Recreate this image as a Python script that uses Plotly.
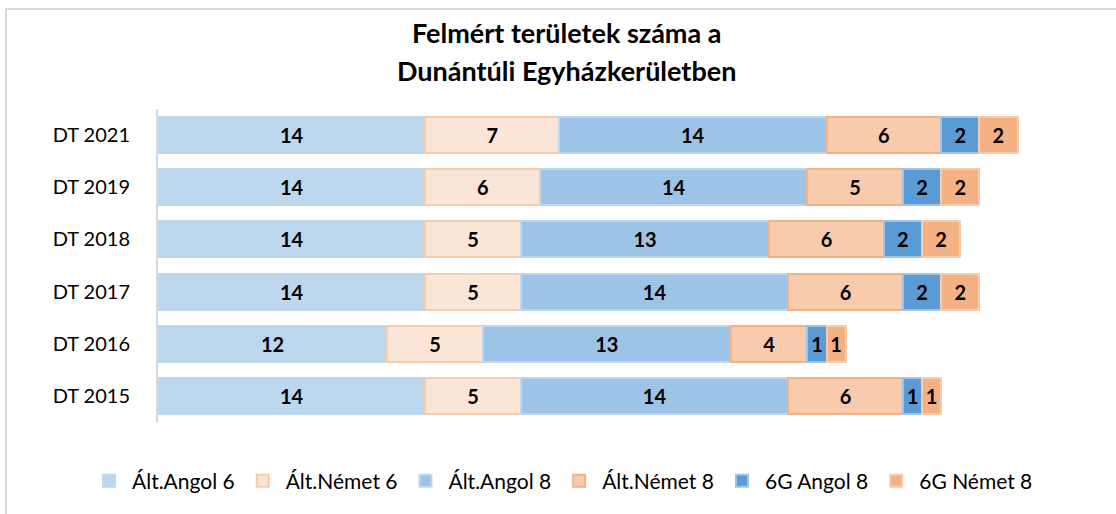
import plotly.graph_objects as go

categories = ["DT 2015", "DT 2016", "DT 2017", "DT 2018", "DT 2019", "DT 2021"]
series_names = ["Ált.Angol 6", "Ált.Német 6", "Ált.Angol 8", "Ált.Német 8", "6G Angol 8", "6G Német 8"]
alt_angol_6 = [14, 12, 14, 14, 14, 14]
alt_nemet_6 = [5, 5, 5, 5, 6, 7]
alt_angol_8 = [14, 13, 14, 13, 14, 14]
alt_nemet_8 = [6, 4, 6, 6, 5, 6]
g6_angol_8 = [1, 1, 2, 2, 2, 2]
g6_nemet_8 = [1, 1, 2, 2, 2, 2]
title_lines = ["Felmért területek száma a", "Dunántúli Egyházkerületben"]

values = [alt_angol_6, alt_nemet_6, alt_angol_8, alt_nemet_8, g6_angol_8, g6_nemet_8]
fills = ["#BDD7EE", "#FBE5D6", "#9DC3E6", "#F8CBAD", "#5B9BD5", "#F4B183"]
borders = ["#BDD7EE", "#F8CBAD", "#BDD7EE", "#F4B183", "#9DC3E6", "#F8CBAD"]

FONT = "Lato"
fig = go.Figure()
for name, vals, fc, bc in zip(series_names, values, fills, borders):
    fig.add_trace(go.Bar(
        y=categories, x=vals, name=name, orientation="h",
        marker=dict(color=fc, line=dict(color=bc, width=2)),
        text=[str(v) for v in vals], textposition="inside",
        insidetextanchor="middle", textangle=0,
        textfont=dict(family=FONT, size=20, color="black", weight="bold"),
        hoverinfo="x+y+name",
    ))

L, R, T, B = 158, 8, 109, 92
W, H = 1116, 514
pw = W - L - R
ph = H - T - B

def px(x):
    return (x - L) / pw

def py(y):
    return (H - B - y) / ph

annotations = []
for line, ypix in zip(title_lines, [32, 70]):
    annotations.append(dict(
        text="<b>" + line + "</b>", xref="paper", yref="paper",
        x=px(566), y=py(ypix), xanchor="center", yanchor="middle",
        showarrow=False, font=dict(family=FONT, size=27, color="#000000")))

fig.update_layout(
    width=W, height=H,
    barmode="stack", bargap=0.31,
    margin=dict(l=L, r=R, t=T, b=B, autoexpand=False),
    plot_bgcolor="white", paper_bgcolor="white",
    font=dict(family=FONT, size=18, color="#000000"),
    uniformtext=dict(minsize=18, mode="show"),
    annotations=annotations,
    xaxis=dict(range=[0, pw / 19.1], showgrid=False, zeroline=False,
               showticklabels=False, showline=False, fixedrange=True),
    yaxis=dict(categoryorder="array", categoryarray=categories,
               showline=True, linecolor="#D9D9D9", linewidth=2,
               showgrid=False, ticks="", ticklabelstandoff=22,
               tickfont=dict(family=FONT, size=20, color="#000000")),
    legend=dict(orientation="h", x=86 / W, xanchor="left", xref="container",
                y=py(481), yanchor="middle", yref="paper",
                traceorder="normal",
                font=dict(family=FONT, size=21, color="#000000"),
                itemwidth=36),
    shapes=[dict(type="rect", xref="paper", yref="paper",
                 x0=px(6), x1=px(1125), y0=py(525), y1=py(9),
                 line=dict(color="#D9D9D9", width=2), fillcolor="rgba(0,0,0,0)",
                 layer="below")],
)

fig.write_html("out.html", config={"displayModeBar": False},
               post_script="document.body.style.margin='0';document.body.style.padding='0';")
